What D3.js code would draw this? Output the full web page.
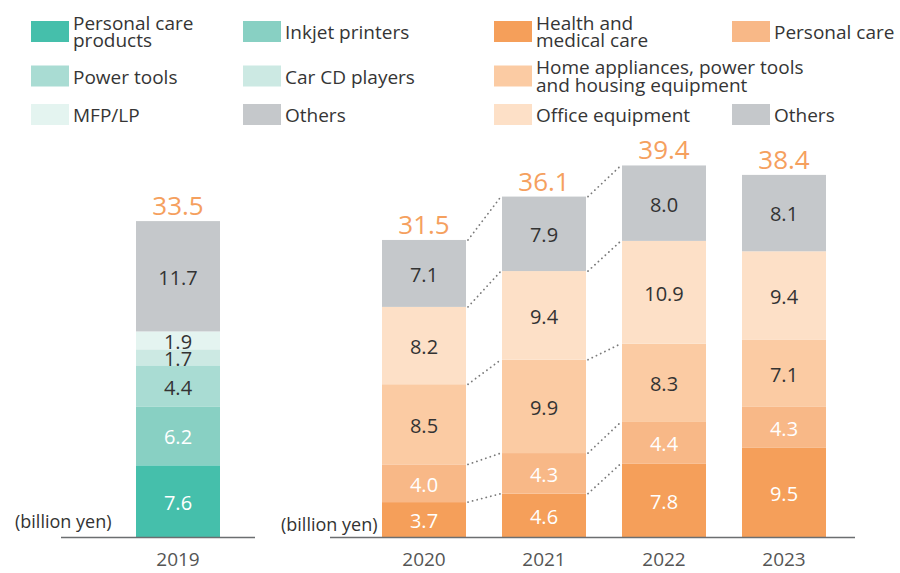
<!DOCTYPE html>
<html lang="en">
<meta charset="utf-8">
<script src="https://d3js.org/d3.v7.min.js"></script>
<head>
    <style type="text/css">
        body { margin: 0; background: #fff; }
        svg text { font-family: "Open Sans", sans-serif; }
        .legend-text { font-size: 19px; fill: #353535; }
        .seg-label { font-size: 20px; text-anchor: middle; }
        .total-label { font-size: 26px; fill: #f5a05e; text-anchor: middle; }
        .unit { font-size: 18px; fill: #333; }
        .year { font-size: 19px; fill: #555; }
    </style>
</head>
<body>
<div id="chart"></div>
<script>
    // 2019 breakdown
    const leftYears = ["2019"];
    const leftSeries = ["Personal care products", "Inkjet printers", "Power tools", "Car CD players", "MFP/LP", "Others"];
    const leftValues = [[7.6], [6.2], [4.4], [1.7], [1.9], [11.7]];
    const leftTotals = [33.5];

    // 2020-2023 breakdown
    const rightYears = ["2020", "2021", "2022", "2023"];
    const rightSeries = ["Health and medical care", "Personal care", "Home appliances, power tools and housing equipment", "Office equipment", "Others"];
    const healthCare = [3.7, 4.6, 7.8, 9.5];
    const personalCare = [4.0, 4.3, 4.4, 4.3];
    const homeAppliances = [8.5, 9.9, 8.3, 7.1];
    const officeEquipment = [8.2, 9.4, 10.9, 9.4];
    const othersRight = [7.1, 7.9, 8.0, 8.1];
    const rightTotals = [31.5, 36.1, 39.4, 38.4];

    const leftColors = ["#45bfab", "#88d0c3", "#a9dcd3", "#cce9e3", "#e4f4f0", "#c5c8cb"];
    const leftTextColors = ["#fff", "#fff", "#333", "#333", "#333", "#333"];
    const rightColors = ["#f59f5a", "#f8b887", "#fbcba3", "#fde0c7", "#c5c8cb"];
    const rightTextColors = ["#fff", "#fff", "#333", "#333", "#333"];

    const W = 900, H = 573;
    const svg = d3.select("#chart").append("svg")
        .attr("width", W).attr("height", H);

    const baseY = 537;
    const y = d3.scaleLinear().domain([0, 40]).range([baseY, baseY - 377.2]);

    const xLeft = d3.scaleBand().domain(leftYears).range([136, 220]).padding(0);
    const xRight = d3.scaleBand().domain(rightYears).range([382, 826])
        .paddingInner(0.3).paddingOuter(0);

    function stackRows(years, series, valueRows) {
        // returns per series: [{year, y0, y1, v}]
        const out = series.map(() => []);
        years.forEach((yr, j) => {
            let acc = 0;
            series.forEach((s, i) => {
                const v = valueRows[i][j];
                out[i].push({ year: yr, y0: acc, y1: acc + v, v: v });
                acc += v;
            });
        });
        return out;
    }

    function drawPanel(x, years, series, valueRows, totals, colors, textColors, axisFrom, axisTo) {
        const stacked = stackRows(years, series, valueRows);
        const g = svg.append("g");

        stacked.forEach((rows, i) => {
            g.selectAll(null).data(rows).join("rect")
                .attr("x", d => x(d.year))
                .attr("y", d => y(d.y1))
                .attr("width", x.bandwidth())
                .attr("height", d => y(d.y0) - y(d.y1))
                .attr("fill", colors[i]);
            g.selectAll(null).data(rows).join("text")
                .attr("class", "seg-label")
                .attr("x", d => x(d.year) + x.bandwidth() / 2)
                .attr("y", d => (y(d.y0) + y(d.y1)) / 2)
                .attr("dy", "0.42em")
                .attr("fill", textColors[i])
                .text(d => d3.format(".1f")(d.v));
        });

        g.selectAll(null).data(years).join("text")
            .attr("class", "total-label")
            .attr("x", d => x(d) + x.bandwidth() / 2)
            .attr("y", (d, j) => y(totals[j]) - 6)
            .text((d, j) => d3.format(".1f")(totals[j]));

        // baseline + year ticks
        g.append("line")
            .attr("x1", axisFrom).attr("x2", axisTo)
            .attr("y1", baseY + 0.5).attr("y2", baseY + 0.5)
            .attr("stroke", "#6b6e70").attr("stroke-width", 1.5);

        const axis = g.append("g")
            .attr("transform", `translate(0, ${baseY})`)
            .call(d3.axisBottom(x).tickSize(0).tickPadding(16));
        axis.select(".domain").remove();
        axis.selectAll("text")
            .attr("class", "year")
            .attr("font-family", null)
            .attr("font-size", null)
            .attr("fill", null);

        return stacked;
    }

    drawPanel(xLeft, leftYears, leftSeries, leftValues, leftTotals,
        leftColors, leftTextColors, 61, 255);
    const rightStack = drawPanel(xRight, rightYears, rightSeries,
        [healthCare, personalCare, homeAppliances, officeEquipment, othersRight],
        rightTotals, rightColors, rightTextColors, 330, 855);

    // dotted connectors between 2020-2021 and 2021-2022
    const conn = svg.append("g");
    [0, 1].forEach(j => {
        rightStack.forEach(rows => {
            const a = rows[j], b = rows[j + 1];
            conn.append("line")
                .attr("x1", xRight(a.year) + xRight.bandwidth() + 2)
                .attr("y1", y(a.y1))
                .attr("x2", xRight(b.year) - 1)
                .attr("y2", y(b.y1))
                .attr("stroke", "#7a7a7a")
                .attr("stroke-width", 1.8)
                .attr("stroke-linecap", "round")
                .attr("stroke-dasharray", "0.1,4.6");
        });
    });

    // unit labels
    svg.append("text").attr("class", "unit").attr("x", 15).attr("y", 528).text("(billion yen)");
    svg.append("text").attr("class", "unit").attr("x", 281).attr("y", 531).text("(billion yen)");

    // legend
    const colX = [31, 243, 494, 732];
    const rowY = [21, 65.5, 104];
    const legendItems = [
        { name: leftSeries[0], lines: ["Personal care", "products"], col: 0, row: 0, color: leftColors[0] },
        { name: leftSeries[1], lines: ["Inkjet printers"], col: 1, row: 0, color: leftColors[1] },
        { name: leftSeries[2], lines: ["Power tools"], col: 0, row: 1, color: leftColors[2] },
        { name: leftSeries[3], lines: ["Car CD players"], col: 1, row: 1, color: leftColors[3] },
        { name: leftSeries[4], lines: ["MFP/LP"], col: 0, row: 2, color: leftColors[4] },
        { name: leftSeries[5], lines: ["Others"], col: 1, row: 2, color: leftColors[5] },
        { name: rightSeries[0], lines: ["Health and", "medical care"], col: 2, row: 0, color: rightColors[0] },
        { name: rightSeries[1], lines: ["Personal care"], col: 3, row: 0, color: rightColors[1] },
        { name: rightSeries[2], lines: ["Home appliances, power tools", "and housing equipment"], col: 2, row: 1, color: rightColors[2] },
        { name: rightSeries[3], lines: ["Office equipment"], col: 2, row: 2, color: rightColors[3] },
        { name: rightSeries[4], lines: ["Others"], col: 3, row: 2, color: rightColors[4] }
    ];

    const sw = 38, sh = 21;
    const leg = svg.append("g").selectAll("g").data(legendItems).join("g")
        .attr("transform", d => `translate(${colX[d.col]}, ${rowY[d.row]})`);
    leg.append("rect").attr("width", sw).attr("height", sh).attr("fill", d => d.color);
    leg.each(function (d) {
        const t = d3.select(this).append("text").attr("class", "legend-text");
        const c = sh / 2;
        const base = d.lines.length === 1 ? [c + 7.5] : [c - 2, c + 15.5];
        d.lines.forEach((ln, k) => {
            t.append("tspan").attr("x", sw + 4).attr("y", base[k]).text(ln);
        });
    });
</script>
</body>
</html>
